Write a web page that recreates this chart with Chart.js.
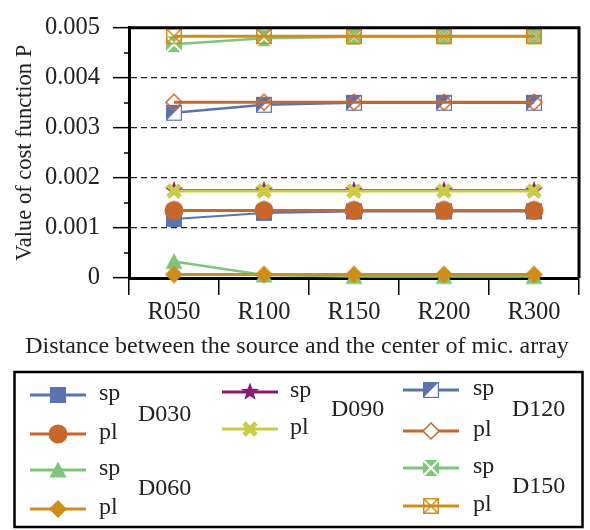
<!DOCTYPE html>
<html>
<head>
<meta charset="utf-8">
<script src="https://cdn.jsdelivr.net/npm/chart.js@4.4.1/dist/chart.umd.min.js"></script>
<style>
  html, body { margin: 0; padding: 0; background: #fff; }
  #c { display: block; }
</style>
</head>
<body>
<canvas id="c" width="590" height="530"></canvas>
<script>
var categories  = ['R050', 'R100', 'R150', 'R200', 'R300'];
var yTickLabels = ['0', '0.001', '0.002', '0.003', '0.004', '0.005'];

var d030sp = [0.00118, 0.00130, 0.00133, 0.00133, 0.00133];
var d030pl = [0.00135, 0.00135, 0.00135, 0.00135, 0.00135];
var d060sp = [0.00033, 0.00006, 0.00003, 0.00003, 0.00003];
var d060pl = [0.00007, 0.00007, 0.00007, 0.00007, 0.00007];
var d090sp = [0.00175, 0.00175, 0.00175, 0.00175, 0.00175];
var d090pl = [0.00174, 0.00174, 0.00174, 0.00174, 0.00174];
var d120sp = [0.00330, 0.00346, 0.00350, 0.00350, 0.00350];
var d120pl = [0.00351, 0.00351, 0.00351, 0.00351, 0.00351];
var d150sp = [0.00467, 0.00479, 0.00482, 0.00483, 0.00483];
var d150pl = [0.00483, 0.00483, 0.00483, 0.00483, 0.00483];

var FONT = '"Liberation Serif", "Times New Roman", serif';
var TEXT = '#222';

var blue   = '#5b73b1';
var orange = '#c8672a';
var green  = '#7fc67a';
var gold   = '#cf8d1c';
var purple = '#8c1a6e';
var lime   = '#c9cd45';

// small canvases used as point styles (plot + legend)
function marker(kind, color) {
  var s = 20, m = 10;
  var c = document.createElement('canvas');
  c.width = s; c.height = s;
  var g = c.getContext('2d');
  g.fillStyle = color;
  g.strokeStyle = color;
  if (kind === 'square') {
    g.fillRect(2, 2, 16, 16);
  } else if (kind === 'circle') {
    g.beginPath(); g.arc(m, m, 9.5, 0, Math.PI * 2); g.fill();
  } else if (kind === 'triangle') {
    g.beginPath(); g.moveTo(m, 1.5); g.lineTo(18.5, 17.5); g.lineTo(1.5, 17.5); g.closePath(); g.fill();
  } else if (kind === 'diamond') {
    g.beginPath(); g.moveTo(m, 1); g.lineTo(19, m); g.lineTo(m, 19); g.lineTo(1, m); g.closePath(); g.fill();
  } else if (kind === 'star') {
    g.beginPath();
    for (var i = 0; i < 10; i++) {
      var r = i % 2 ? 4 : 9.5;
      var a = -Math.PI / 2 + i * Math.PI / 5;
      g.lineTo(m + r * Math.cos(a), m + r * Math.sin(a));
    }
    g.closePath(); g.fill();
  } else if (kind === 'cross') {
    g.lineWidth = 5;
    g.beginPath();
    g.moveTo(4, 4); g.lineTo(16, 16);
    g.moveTo(16, 4); g.lineTo(4, 16);
    g.stroke();
  } else if (kind === 'halfsq') {
    g.fillStyle = '#fff'; g.fillRect(2, 2, 16, 16);
    g.fillStyle = color;
    g.beginPath(); g.moveTo(2, 2); g.lineTo(18, 2); g.lineTo(2, 18); g.closePath(); g.fill();
    g.lineWidth = 1.2; g.strokeRect(2.6, 2.6, 14.8, 14.8);
  } else if (kind === 'odiamond' || kind === 'odiamondW') {
    g.beginPath(); g.moveTo(m, 2); g.lineTo(18, m); g.lineTo(m, 18); g.lineTo(2, m); g.closePath();
    if (kind === 'odiamondW') { g.fillStyle = '#fff'; g.fill(); }
    g.lineWidth = 1.5; g.stroke();
  } else if (kind === 'xsq') {
    g.fillRect(2, 2, 16, 16);
    g.strokeStyle = '#fff'; g.lineWidth = 2;
    g.beginPath(); g.moveTo(2, 2); g.lineTo(18, 18); g.moveTo(18, 2); g.lineTo(2, 18); g.stroke();
  } else if (kind === 'oxsq') {
    g.lineWidth = 1.5;
    g.strokeRect(2.75, 2.75, 14.5, 14.5);
    g.beginPath(); g.moveTo(3, 3); g.lineTo(17, 17); g.moveTo(17, 3); g.lineTo(3, 17); g.stroke();
  }
  return c;
}

var series = [
  { data: d030sp, color: blue,   width: 2,   mk: marker('square', blue) },
  { data: d030pl, color: orange, width: 3,   mk: marker('circle', orange) },
  { data: d060sp, color: green,  width: 2.5, mk: marker('triangle', green) },
  { data: d060pl, color: gold,   width: 3,   mk: marker('diamond', gold) },
  { data: d090sp, color: purple, width: 3,   mk: marker('star', purple) },
  { data: d090pl, color: lime,   width: 3,   mk: marker('cross', lime) },
  { data: d120sp, color: blue,   width: 2.5, mk: marker('halfsq', blue) },
  { data: d120pl, color: orange, width: 3,   mk: marker('odiamond', orange), lg: marker('odiamondW', orange) },
  { data: d150sp, color: green,  width: 2.5, mk: marker('xsq', green) },
  { data: d150pl, color: gold,   width: 3,   mk: marker('oxsq', gold) }
];

var datasets = series.map(function(s, i) {
  return {
    data: s.data,
    borderColor: s.color,
    backgroundColor: s.color,
    borderWidth: s.width,
    pointStyle: s.mk,
    pointRadius: 8,
    tension: 0,
    clip: false,
    order: 20 - i
  };
});

// legend layout: [series index, line x1, x2, marker x, label x, row y, label]
var legendRows = [
  [0, 30, 86, 58, 99, 395, 'sp'], [1, 30, 86, 58, 99, 434, 'pl'],
  [2, 30, 86, 58, 99, 470, 'sp'], [3, 30, 86, 58, 99, 509, 'pl'],
  [4, 222, 278, 250, 290, 392, 'sp'], [5, 222, 278, 250, 290, 429, 'pl'],
  [6, 403, 459, 431, 473, 390, 'sp'], [7, 403, 459, 431, 473, 431, 'pl'],
  [8, 403, 459, 431, 473, 468, 'sp'], [9, 403, 459, 431, 473, 506, 'pl']
];
var legendGroups = [['D030', 138, 415], ['D060', 138, 489], ['D090', 331, 410], ['D120', 512, 410], ['D150', 512, 487]];

var decorations = {
  id: 'decorations',
  afterDraw: function(chart) {
    var ctx = chart.ctx, ca = chart.chartArea, y = chart.scales.y;
    ctx.save();
    // minor y ticks
    ctx.strokeStyle = '#000';
    ctx.lineWidth = 1.5;
    y.ticks.forEach(function(t, i) {
      if (i % 2 === 1) {
        var py = Math.round(y.getPixelForValue(t.value));
        ctx.beginPath(); ctx.moveTo(ca.left - 5, py); ctx.lineTo(ca.left, py); ctx.stroke();
      }
    });
    // top and right frame
    ctx.lineWidth = 3;
    ctx.beginPath();
    ctx.moveTo(ca.left, ca.top); ctx.lineTo(ca.right, ca.top); ctx.lineTo(ca.right, ca.bottom);
    ctx.stroke();

    // axis titles
    ctx.fillStyle = TEXT;
    ctx.textAlign = 'center';
    ctx.textBaseline = 'middle';
    ctx.font = '24px ' + FONT;
    ctx.fillText('Distance between the source and the center of mic. array', 297, 347);
    ctx.save();
    ctx.font = '22.5px ' + FONT;
    ctx.translate(25, (ca.top + ca.bottom) / 2);
    ctx.rotate(-Math.PI / 2);
    ctx.fillText('Value of cost function P', 0, 0);
    ctx.restore();

    // legend
    ctx.font = '24px ' + FONT;
    ctx.lineWidth = 2.5;
    ctx.strokeStyle = '#000';
    ctx.strokeRect(14.5, 372, 568, 155);
    ctx.textAlign = 'left';
    legendRows.forEach(function(r) {
      var s = series[r[0]];
      ctx.strokeStyle = s.color;
      ctx.lineWidth = 3;
      ctx.beginPath(); ctx.moveTo(r[1], r[5]); ctx.lineTo(r[2], r[5]); ctx.stroke();
      var img = s.lg || s.mk;
      ctx.drawImage(img, r[3] - img.width / 2, r[5] - img.height / 2);
      ctx.fillText(r[6], r[4], r[5] - 1);
    });
    legendGroups.forEach(function(gp) {
      ctx.fillText(gp[0], gp[1], gp[2]);
    });
    ctx.restore();
  }
};

new Chart(document.getElementById('c'), {
  type: 'line',
  data: { labels: categories, datasets: datasets },
  options: {
    responsive: false,
    animation: false,
    devicePixelRatio: 1,
    layout: { padding: { left: 0, right: 7, top: 15, bottom: 202 } },
    plugins: { legend: { display: false }, tooltip: { enabled: false } },
    scales: {
      x: {
        offset: true,
        grid: { offset: true, drawOnChartArea: false, tickLength: 17, color: '#000', tickColor: '#000', lineWidth: 1.5, tickWidth: 1.5 },
        border: { width: 3, color: '#000' },
        ticks: { font: { family: FONT, size: 24.5 }, color: TEXT, padding: 3 },
        afterFit: function(s) { s.height = 50; }
      },
      y: {
        min: 0,
        max: 0.005,
        ticks: {
          stepSize: 0.0005,
          autoSkip: false,
          font: { family: FONT, size: 24.5 },
          color: TEXT,
          padding: 13,
          callback: function(v, i) { return i % 2 === 0 ? yTickLabels[i / 2] : ''; }
        },
        grid: {
          lineWidth: 1.3,
          tickLength: 16,
          tickWidth: 1.5,
          color: function(c) { return (c.index % 2 === 0 && c.index > 0 && c.index < 10) ? '#222' : 'rgba(0,0,0,0)'; },
          tickColor: function(c) { return c.index % 2 === 0 ? '#000' : 'rgba(0,0,0,0)'; }
        },
        border: { width: 3, color: '#000', dash: [6, 4] },
        afterFit: function(s) { s.width = 129; }
      }
    }
  },
  plugins: [decorations]
});
</script>
</body>
</html>
